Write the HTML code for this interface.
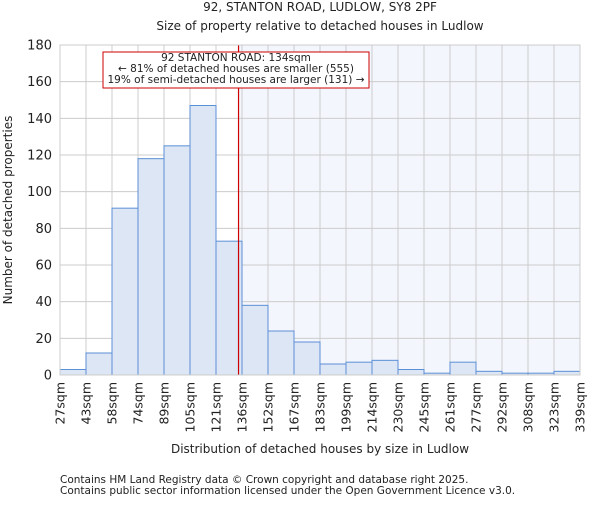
<!DOCTYPE html>
<html><head><meta charset="utf-8"><style>
body{margin:0;background:#fff;}
svg text{font-family:"DejaVu Sans","Liberation Sans",sans-serif;fill:#222;}
</style></head><body>
<svg id="chart" width="600" height="500" xmlns="http://www.w3.org/2000/svg">
<text x="320" y="11" font-size="12" text-anchor="middle">92, STANTON ROAD, LUDLOW, SY8 2PF</text>
<text x="320" y="30" font-size="12" text-anchor="middle">Size of property relative to detached houses in Ludlow</text>
<g id="plot"></g>
<text x="320" y="453" font-size="12" text-anchor="middle">Distribution of detached houses by size in Ludlow</text>
<text x="12" y="210" font-size="12" text-anchor="middle" transform="rotate(-90 12 210)">Number of detached properties</text>
<text x="60" y="483" font-size="10.5">Contains HM Land Registry data © Crown copyright and database right 2025.</text>
<text x="60" y="494" font-size="10.5">Contains public sector information licensed under the Open Government Licence v3.0.</text>
</svg>
<script>
const edgeLabels=["27sqm","43sqm","58sqm","74sqm","89sqm","105sqm","121sqm","136sqm","152sqm","167sqm","183sqm","199sqm","214sqm","230sqm","245sqm","261sqm","277sqm","292sqm","308sqm","323sqm","339sqm"];
const counts=[3,12,91,118,125,147,73,38,24,18,6,7,8,3,1,7,2,1,1,2];
const yTicks=[0,20,40,60,80,100,120,140,160,180];
const markerIndex=6+(134-121)/15;
const X0=60,X1=580,Y0=375,Y1=45,YMAX=180;
const NS="http://www.w3.org/2000/svg";
const g=document.getElementById('plot');
const bw=(X1-X0)/counts.length;
const xs=i=>X0+i*bw;
const ys=v=>Y0-(v/YMAX)*(Y0-Y1);
function mk(t,a){const e=document.createElementNS(NS,t);for(const k in a)e.setAttribute(k,a[k]);g.appendChild(e);return e;}
const mx=xs(markerIndex);
let sh=mk('rect',{x:mx,y:Y1,width:X1-mx,height:Y0-Y1,fill:'#f4f6fd'});


yTicks.forEach(v=>{
  const l=mk('line',{x1:X0,x2:X1,y1:ys(v),y2:ys(v),stroke:'#cccccc','stroke-width':1});
  
  
  const t=mk('text',{x:X0-8,y:ys(v)+4.5,'font-size':13,'text-anchor':'end'});
  t.textContent=v;
  
  
});
edgeLabels.forEach((s,i)=>{
  const x=xs(i);
  const l=mk('line',{x1:x,x2:x,y1:Y1,y2:Y0,stroke:'#cccccc','stroke-width':1});
  
  
  const t=mk('text',{x:x+4.5,y:382,'font-size':12.5,'text-anchor':'end',transform:`rotate(-90 ${x+4.5} 382)`});
  t.textContent=s;
  
  
});
counts.forEach((c,i)=>{
  const r=mk('rect',{x:xs(i),y:ys(c),width:bw,height:Y0-ys(c),fill:'#dce6f4',stroke:'#5b8fd6','stroke-width':1});
  
  
});
let ml=mk('line',{x1:mx,x2:mx,y1:Y1,y2:Y0,stroke:'#cc0000','stroke-width':1.2});


let bx=mk('rect',{x:103,y:52,width:266,height:36,fill:'#fff',stroke:'#cc0000','stroke-width':1});


["92 STANTON ROAD: 134sqm","← 81% of detached houses are smaller (555)","19% of semi-detached houses are larger (131) →"].forEach((s,i)=>{
  const t=mk('text',{x:236,y:61+i*11,'font-size':10.5,'text-anchor':'middle'});
  t.textContent=s;
  
  
});
let ax=mk('rect',{x:X0,y:Y1,width:X1-X0,height:Y0-Y1,fill:'none',stroke:'#cccccc','stroke-width':1});


</script>
</body></html>
